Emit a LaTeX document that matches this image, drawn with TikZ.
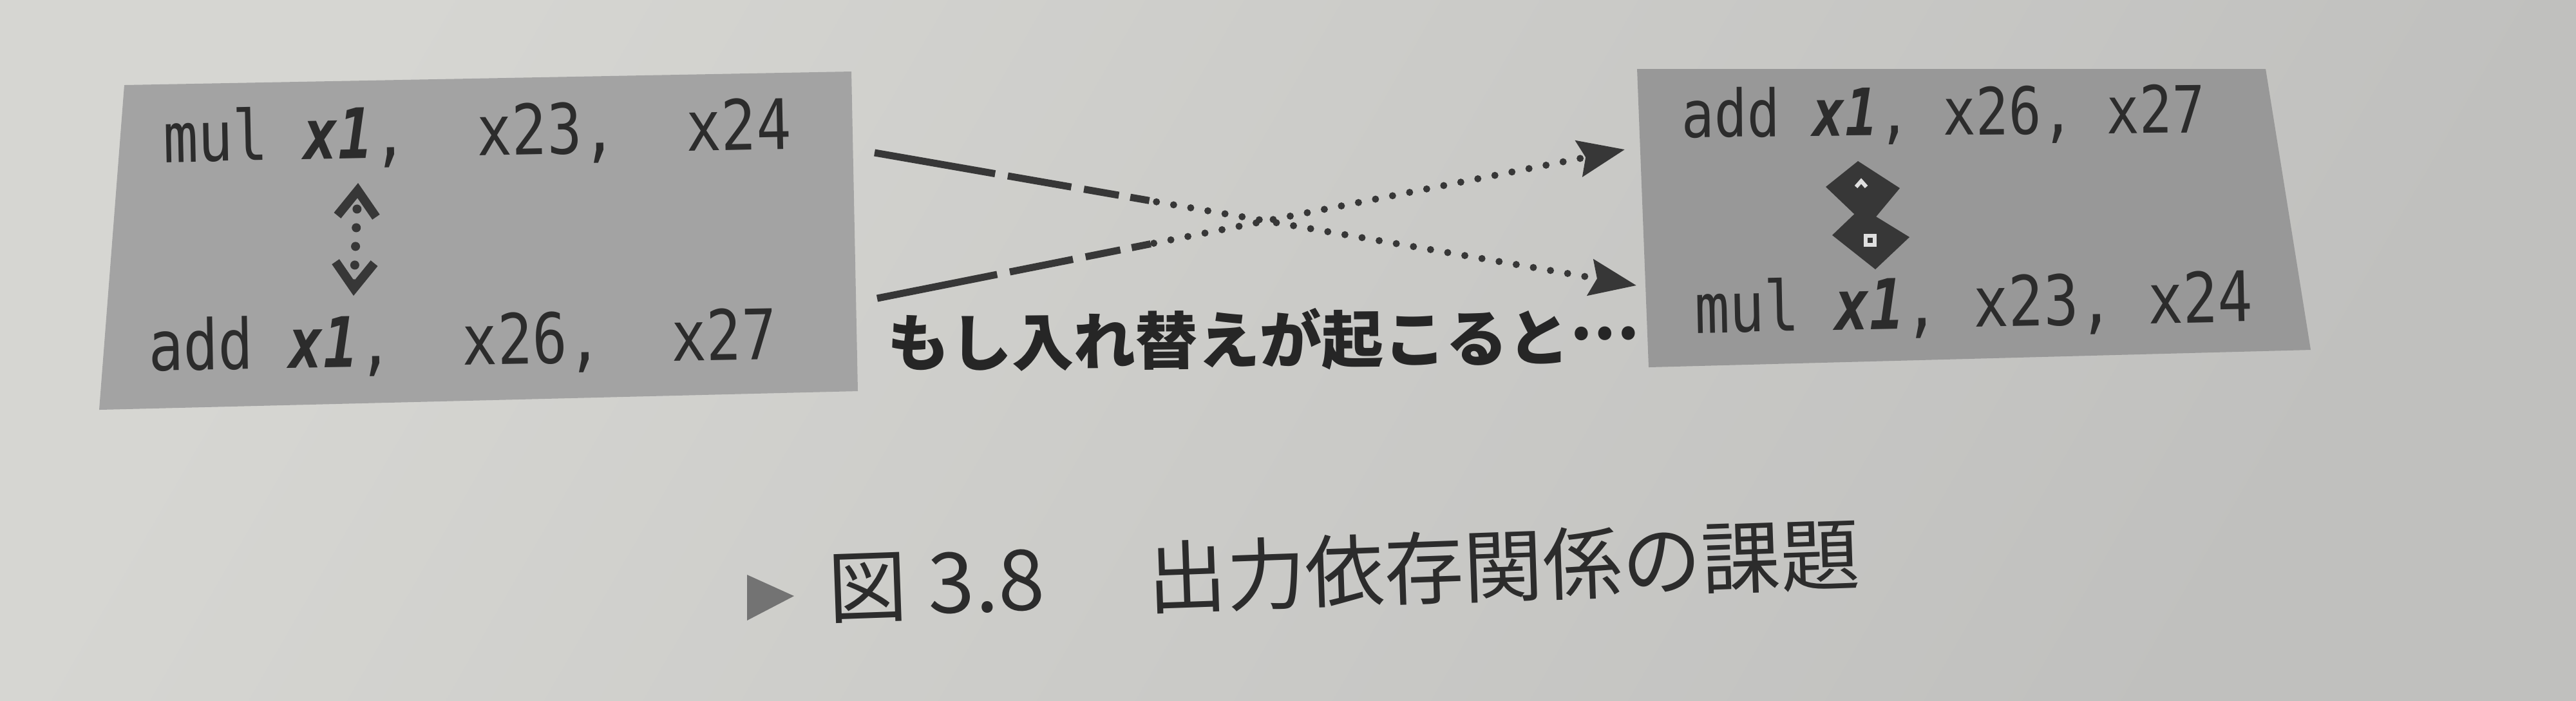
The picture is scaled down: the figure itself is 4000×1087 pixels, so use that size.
\documentclass[tikz,border=0pt]{standalone}
\usepackage{fontspec}
\usepackage{graphicx}
\usepackage{tikz}
\usetikzlibrary{arrows.meta, calc}

\setmonofont{DejaVu Sans Mono}
\newfontfamily\jpfont{Noto Sans CJK JP}

\definecolor{paperhi}{RGB}{214,214,210}
\definecolor{paperlo}{RGB}{192,192,190}
\definecolor{boxL}{RGB}{163,163,163}
\definecolor{boxR}{RGB}{152,152,152}
\definecolor{ink}{RGB}{44,44,44}
\definecolor{arrowink}{RGB}{55,55,55}
\definecolor{markgray}{RGB}{115,115,115}

\newcommand{\asm}[1]{\scalebox{1}[1.2]{#1}}

\begin{document}
\begin{tikzpicture}[
    x=0.05mm, y=-0.05mm,
    code/.style={
        inner sep=0pt,
        anchor=base west,
        text=ink,
        font=\ttfamily\fontsize{12.8}{14}\selectfont
    },
    jplabel/.style={
        inner sep=0pt,
        anchor=west,
        text=black!85,
        font=\jpfont\bfseries\fontsize{13.7}{16}\selectfont
    },
    caption/.style={
        inner sep=0pt,
        anchor=west,
        text=ink,
        rotate=2,
        font=\jpfont\fontsize{17.5}{19}\selectfont
    },
    dashpart/.style={
        draw=arrowink, line width=0.55mm,
        dash pattern=on 9.5mm off 1mm on 5mm off 1mm on 2.75mm off 0.9mm on 1.5mm off 0.9mm
    },
    dotpart/.style={
        draw=arrowink, line width=0.55mm, line cap=round,
        dash pattern=on 0pt off 1.35mm,
        -{Stealth[length=3.6mm, width=2.8mm, inset=0.5mm]}
    },
    depline/.style={
        draw=arrowink, line width=0.7mm, line cap=round,
        dash pattern=on 0pt off 1.45mm,
        {Straight Barb[length=2mm, width=3mm]}-{Straight Barb[length=2mm, width=3mm]}
    }
]

% ===== paper =====
\useasboundingbox (0,0) rectangle (4000,1087);
\shade[top color=paperhi, bottom color=paperlo, shading angle=60] (0,0) rectangle (4000,1087);

% ===== code boxes =====
\fill[boxL] (193,132) -- (1322,111) -- (1332,607) -- (154,636) -- cycle;
\fill[boxR] (2542,107) -- (3518,107) -- (3588,543) -- (2560,570) -- cycle;

\node[code, rotate=1.2] (lmul) at (253,252) {\asm{mul~\textbf{\textit{x1}},~~x23,~~x24}};
\node[code, rotate=1]   (ladd) at (230,575) {\asm{add~\textbf{\textit{x1}},~~x26,~~x27}};
\node[code, rotate=0.5, font=\ttfamily\fontsize{12}{14}\selectfont] (radd) at (2610,213) {\asm{add~\textbf{\textit{x1}},~x26,~x27}};
\node[code, rotate=1.2] (rmul) at (2631,517) {\asm{mul~\textbf{\textit{x1}},~x23,~x24}};

% ===== dependency (left) =====
\coordinate (lup) at (556,284);
\coordinate (ldn) at (549,459);
\draw[depline] (ldn) -- (lup);

% ===== broken dependency (right) =====
\fill[arrowink] (2885,250) -- (2950,292) -- (2900,352) -- (2835,290) -- cycle;
\fill[arrowink] (2890,322) -- (2965,368) -- (2912,418) -- (2845,365) -- cycle;
\draw[white!75!gray, line width=0.3mm] (2882,290) -- (2890,281) -- (2898,290);
\draw[white!75!gray, line width=0.3mm] (2897,366) rectangle (2911,380);

% ===== swap arrows =====
\coordinate (a1) at (1358,237);
\coordinate (a2) at (2541,443);
\coordinate (b1) at (1362,463);
\coordinate (b2) at (2523,232);
\coordinate (am) at ($(a1)!0.37!(a2)$);
\coordinate (bm) at ($(b1)!0.37!(b2)$);
\draw[dashpart] (a1) -- (am);
\draw[dotpart]  (am) -- (a2);
\draw[dashpart] (b1) -- (bm);
\draw[dotpart]  (bm) -- (b2);

\node[jplabel, rotate=0.5] (swaplabel) at (1377,532) {もし入れ替えが起こると\raisebox{0.33em}{…}};

% ===== caption =====
\fill[markgray] (1160,892) -- (1233,925) -- (1160,963) -- cycle;
\node[caption] (figno) at (1285,914) {図\hspace{1.6mm}{\fontsize{18.5}{20}\selectfont 3.8}};
\node[caption] (figtitle) at (1780,897) {出力依存関係の課題};

\end{tikzpicture}
\end{document}
